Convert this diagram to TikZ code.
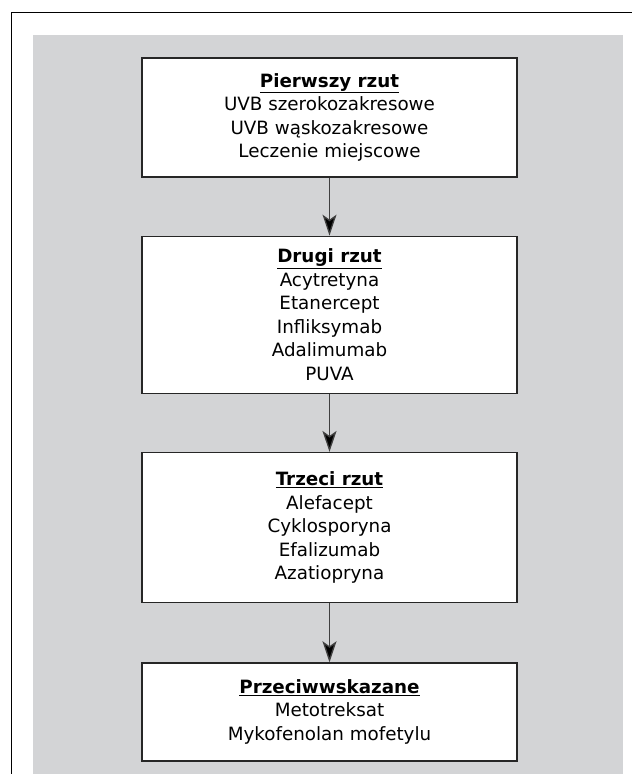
\documentclass[tikz,border=0pt]{standalone}
\usepackage{fontspec}
\setmainfont{DejaVu Sans}
\usetikzlibrary{arrows.meta,positioning}
\definecolor{panelgray}{RGB}{211,212,214}

\begin{document}
\begin{tikzpicture}[x=1pt,y=-1pt,->,>={Stealth[length=21pt,width=14pt,inset=5pt]},
                 		   line width=1.3pt,node distance=58pt]
 				\tikzstyle{rzut}=[draw=black!85,fill=white,minimum width=375pt,align=center,
					inner sep=0pt,font=\fontsize{18.3}{23.5}\selectfont]

				\useasboundingbox (0,0) rectangle (632,774);
				\draw[-,line width=1pt] (11,774) -- (11,12) -- (632,12);
				\fill[-,panelgray] (33,35) rectangle (623,774);

				\node[rzut,minimum height=119pt]	(R1) at (329.5,117.5)	{\underline{\textbf{Pierwszy rzut}}\\UVB szerokozakresowe\\UVB wąskozakresowe\\Leczenie miejscowe};
				\node[rzut,minimum height=157pt]	(R2)	[below=of R1]	{\underline{\textbf{Drugi rzut}}\\Acytretyna\\Etanercept\\Infliksymab\\Adalimumab\\PUVA};
				\node[rzut,minimum height=150pt]	(R3)	[below=of R2]	{\underline{\textbf{Trzeci rzut}}\\Alefacept\\Cyklosporyna\\Efalizumab\\Azatiopryna};
				\node[rzut,minimum height=98pt]	(X)	[below=59pt of R3]	{\underline{\textbf{Przeciwwskazane}}\\Metotreksat\\Mykofenolan mofetylu};

 				 \path[draw=black!75] (R1)	edge	(R2)
					(R2)	edge	(R3)
					(R3)	edge	(X);
	\end{tikzpicture}
\end{document}
